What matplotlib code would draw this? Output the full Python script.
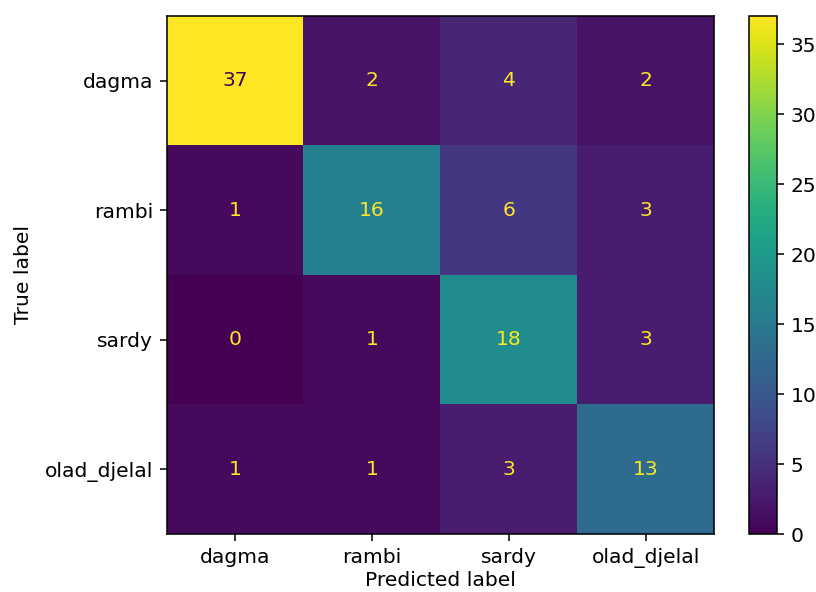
import numpy as np
import matplotlib
matplotlib.use("Agg")
import matplotlib.pyplot as plt

labels = ["dagma", "rambi", "sardy", "olad_djelal"]
row_dagma = [37, 2, 4, 2]
row_rambi = [1, 16, 6, 3]
row_sardy = [0, 1, 18, 3]
row_olad = [1, 1, 3, 13]

cm = np.array([row_dagma, row_rambi, row_sardy, row_olad])

plt.rcParams["font.size"] = 10.4

fig = plt.figure(figsize=(816 / 140, 592 / 140), dpi=140)
ax = fig.add_axes([167 / 816, 1 - 534 / 592, (714 - 167) / 816, (534 - 16) / 592])
cax = fig.add_axes([749 / 816, 1 - 534 / 592, 28 / 816, (534 - 16) / 592])

cmap = plt.get_cmap("viridis")
im = ax.imshow(cm, cmap=cmap, interpolation="nearest", aspect="auto")
fig.colorbar(im, cax=cax)

thresh = (cm.max() + cm.min()) / 2.0
lo, hi = cmap(0), cmap(1.0)
for i in range(cm.shape[0]):
    for j in range(cm.shape[1]):
        ax.text(j, i, format(cm[i, j], "d"), ha="center", va="center",
                color=lo if cm[i, j] >= thresh else hi)

ax.set_xticks(range(len(labels)))
ax.set_xticklabels(labels)
ax.set_yticks(range(len(labels)))
ax.set_yticklabels(labels)
ax.set_xlabel("Predicted label", labelpad=2)
ax.set_ylabel("True label", labelpad=6)
ax.set_ylim(len(labels) - 0.5, -0.5)

fig.savefig("out.png", dpi=140)
